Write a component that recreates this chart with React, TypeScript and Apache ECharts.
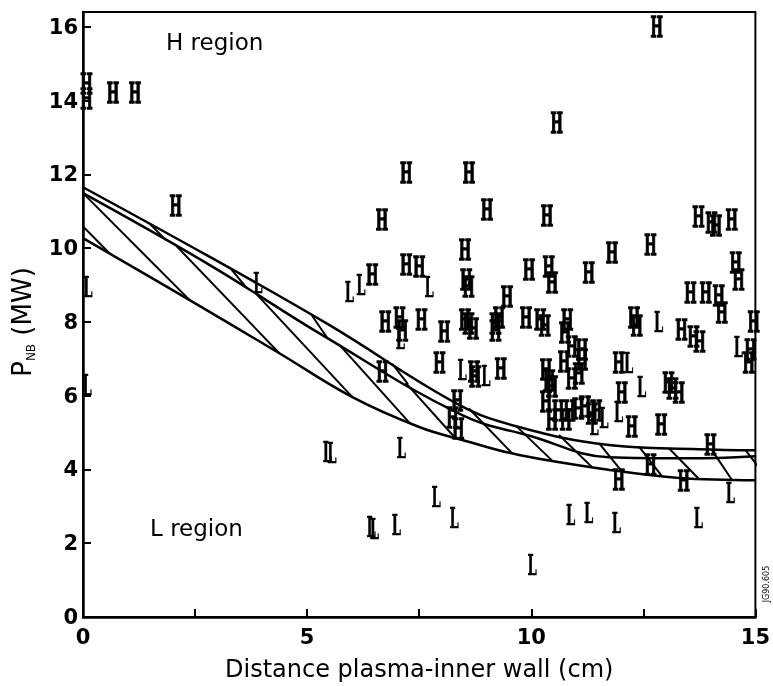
import React, { useEffect, useRef } from "react";
import * as echarts from "echarts";

// Boundary curves (x in cm, y in MW)
const curveAX = [0, 2.83, 5.5, 8.39, 9.73, 11.73, 13.73, 15];
const curveAY = [11.65, 9.76, 7.91, 5.75, 5.15, 4.66, 4.55, 4.52];
const curveBX = [0, 2.83, 5.34, 8.46, 10.0, 11.73, 13.5, 15];
const curveBY = [11.49, 9.54, 7.64, 5.47, 4.9, 4.33, 4.3, 4.36];
const curveCX = [0, 2.38, 4.38, 6.01, 7.5, 8.46, 9.73, 11.8, 13.3, 15];
const curveCY = [10.27, 8.59, 7.15, 5.96, 5.15, 4.8, 4.39, 3.98, 3.77, 3.71];

// Hatching: start x on the upper boundary, end x on the lower boundary
const hatchStartX = [-1.64, 0, 2.09, 3.87, 5.72, 7.2, 8.61, 9.66, 10.62, 11.51, 12.4, 13.06, 14.02, 14.78];
const hatchEndX = [0.6, 2.38, 4.38, 6.01, 7.28, 8.3, 9.57, 10.46, 11.35, 12.02, 12.91, 13.73, 14.47, 15.3];
const thinHatchX = [1.5, 3.3, 5.1, 6.9];

// Observations labelled H
const hX = [0.08, 0.08, 0.67, 1.16, 2.07, 6.67, 7.21, 8.61, 9.01, 10.35, 10.57, 12.8,
  11.8, 12.66, 8.52, 7.21, 7.5, 6.45, 8.55, 8.6, 9.95, 10.39, 10.46, 11.28, 9.46,
  13.73, 14.02, 14.12, 14.47, 14.56, 14.62, 13.55, 13.89, 14.18, 14.25, 14.96, 14.89, 14.85,
  6.74, 7.06, 7.12, 7.55, 8.06, 8.52, 8.6, 8.7, 9.2, 9.28, 9.2, 9.88, 10.2, 10.3, 10.8, 10.75,
  12.29, 12.35, 13.35, 13.62, 13.75,
  7.95, 8.72, 8.75, 9.32, 10.33, 10.46, 10.4, 10.73, 11.13, 10.9, 11.13, 11.06, 10.9, 11.95,
  12.02, 13.06, 13.15, 13.29,
  6.68, 8.35, 8.24, 8.37,
  10.33, 10.46, 10.6, 10.77, 10.85, 11.05, 11.2, 11.35, 11.45, 12.24, 12.9,
  11.95, 12.66, 13.4, 14.0];
const hY = [14.45, 14.05, 14.2, 14.2, 11.15, 10.76, 12.03, 12.03, 11.05, 10.87, 13.39, 15.99,
  9.87, 10.08, 9.95, 9.55, 9.49, 9.27, 9.13, 8.95, 9.4, 9.49, 9.05, 9.32, 8.67,
  10.84, 10.68, 10.6, 10.76, 9.6, 9.13, 8.78, 8.78, 8.7, 8.24, 8.0, 7.24, 6.88,
  8.0, 8.1, 7.75, 8.05, 7.72, 8.05, 7.95, 7.8, 7.95, 8.1, 7.75, 8.1, 8.05, 7.9, 8.05, 7.7,
  8.1, 7.9, 7.78, 7.6, 7.45,
  6.88, 6.64, 6.5, 6.72, 6.69, 6.23, 6.4, 6.91, 6.96, 7.32, 7.24, 6.6, 6.45, 6.88,
  6.07, 6.34, 6.2, 6.07,
  6.64, 5.85, 5.4, 5.1,
  5.83, 5.34, 5.6, 5.34, 5.6, 5.65, 5.7, 5.5, 5.6, 5.15, 5.22,
  3.71, 4.12, 3.68, 4.66];

// Observations labelled L
const lX = [0.11, 0.09, 3.9, 5.94, 6.2, 7.72, 7.08, 8.46, 8.99, 11.62, 11.4, 11.95, 12.17, 12.46,
  12.84, 14.62, 5.45, 5.55, 7.1, 6.43, 6.5, 6.99, 7.88, 8.28, 10.88, 11.28, 11.9, 13.73, 14.44, 10.02];
const lY = [8.94, 6.29, 9.05, 8.82, 9.0, 8.94, 7.55, 6.7, 6.55, 5.39, 5.2, 5.55, 6.88, 6.23,
  8.0, 7.32, 4.47, 4.45, 4.58, 2.44, 2.4, 2.5, 3.25, 2.68, 2.76, 2.82, 2.55, 2.68, 3.36, 1.41];

const xTickLabels = ["0", "5", "10", "15"];
const yTickLabels = ["0", "2", "4", "6", "8", "10", "12", "14", "16"];

function interp(xs: number[], ys: number[], x: number): number {
  if (x <= xs[0]) return ys[0] + ((ys[1] - ys[0]) / (xs[1] - xs[0])) * (x - xs[0]);
  const n = xs.length;
  if (x >= xs[n - 1]) return ys[n - 1] + ((ys[n - 1] - ys[n - 2]) / (xs[n - 1] - xs[n - 2])) * (x - xs[n - 1]);
  for (let i = 0; i < n - 1; i++) {
    if (x >= xs[i] && x <= xs[i + 1]) {
      return ys[i] + ((ys[i + 1] - ys[i]) / (xs[i + 1] - xs[i])) * (x - xs[i]);
    }
  }
  return ys[n - 1];
}

const zip = (a: number[], b: number[]) => a.map((v, i) => [v, b[i]]);

const glyphSeries = (data: number[][], ch: string, heavy: boolean) => ({
  type: "custom",
  coordinateSystem: "cartesian2d",
  data,
  clip: false,
  silent: true,
  renderItem: (_params: any, api: any) => {
    const p = api.coord([api.value(0), api.value(1)]);
    return {
      type: "text",
      x: p[0],
      y: p[1],
      scaleX: 0.47,
      style: {
        text: ch,
        fill: "#000",
        stroke: "#000",
        lineWidth: heavy ? 1.4 : 0.6,
        fontFamily: "DejaVu Serif",
        fontWeight: "bold",
        fontSize: 28,
        align: "center",
        verticalAlign: "middle",
      },
    };
  },
});

export default function App() {
  const ref = useRef<HTMLDivElement>(null);
  useEffect(() => {
    if (!ref.current) return;
    const chart = echarts.init(ref.current, undefined, { renderer: "svg" });

    const hatchData = hatchStartX.map((xs, i) => {
      const upper = xs < 8 ? interp(curveBX, curveBY, xs) : interp(curveAX, curveAY, xs);
      const xe = hatchEndX[i];
      return { coords: [[xs, upper], [xe, interp(curveCX, curveCY, xe)]] };
    });
    const thinData = thinHatchX.map((xs) => ({
      coords: [[xs, interp(curveAX, curveAY, xs)], [xs + 0.35, interp(curveBX, curveBY, xs + 0.35)]],
    }));

    const curveStyle = { color: "#000", width: 2.5 };
    const option: any = {
      animation: false,
      backgroundColor: "#fff",
      grid: {
        left: 83,
        right: 16,
        top: 12,
        bottom: 69,
        show: true,
        borderColor: "#000",
        borderWidth: 2,
        backgroundColor: "transparent",
      },
      xAxis: {
        type: "value",
        min: 0,
        max: 15,
        interval: 5,
        name: "Distance plasma-inner wall (cm)",
        nameLocation: "middle",
        nameGap: 40,
        nameTextStyle: { color: "#000", fontFamily: "DejaVu Sans", fontSize: 24 },
        axisLine: { lineStyle: { color: "#000", width: 2.5 } },
        axisTick: { inside: true, length: 8, lineStyle: { color: "#000", width: 2 } },
        minorTick: { show: true, splitNumber: 2, length: 8, lineStyle: { color: "#000", width: 2 } },
        splitLine: { show: false },
        axisLabel: {
          color: "#000",
          fontFamily: "DejaVu Sans",
          fontWeight: "bold",
          fontSize: 21,
          margin: 9,
          formatter: (v: number) => xTickLabels[Math.round(v / 5)] ?? "",
        },
      },
      yAxis: {
        type: "value",
        min: 0,
        max: 16.4,
        interval: 2,
        axisLine: { lineStyle: { color: "#000", width: 2.5 } },
        axisTick: { inside: true, length: 8, lineStyle: { color: "#000", width: 2 } },
        splitLine: { show: false },
        axisLabel: {
          color: "#000",
          fontFamily: "DejaVu Sans",
          fontWeight: "bold",
          fontSize: 21,
          margin: 5,
          showMaxLabel: false,
          formatter: (v: number) => (Math.abs(v / 2 - Math.round(v / 2)) < 1e-6 ? yTickLabels[Math.round(v / 2)] ?? "" : ""),
        },
      },
      series: [
        { type: "line", data: zip(curveAX, curveAY), smooth: 0.4, symbol: "none", lineStyle: curveStyle, silent: true },
        { type: "line", data: zip(curveBX, curveBY), smooth: 0.4, symbol: "none", lineStyle: curveStyle, silent: true },
        { type: "line", data: zip(curveCX, curveCY), smooth: 0.4, symbol: "none", lineStyle: curveStyle, silent: true },
        {
          type: "lines",
          coordinateSystem: "cartesian2d",
          data: hatchData,
          clip: true,
          silent: true,
          lineStyle: { color: "#000", width: 2, opacity: 1, curveness: 0 },
        },
        {
          type: "lines",
          coordinateSystem: "cartesian2d",
          data: thinData,
          clip: true,
          silent: true,
          lineStyle: { color: "#000", width: 2, opacity: 1, curveness: 0 },
        },
        glyphSeries(zip(hX, hY), "H", true),
        glyphSeries(zip(lX, lY), "L", false),
      ],
      graphic: [
        {
          type: "text",
          left: 166,
          top: 30,
          style: { text: "H region", fill: "#000", fontFamily: "DejaVu Sans", fontSize: 23 },
        },
        {
          type: "text",
          left: 150,
          top: 516,
          style: { text: "L region", fill: "#000", fontFamily: "DejaVu Sans", fontSize: 23 },
        },
        {
          type: "text",
          x: 22,
          y: 322,
          rotation: Math.PI / 2,
          style: {
            text: "{p|P}{s|NB}{n| (MW)}",
            fill: "#000",
            align: "center",
            verticalAlign: "middle",
            rich: {
              p: { fontFamily: "DejaVu Sans", fontSize: 26, lineHeight: 30, verticalAlign: "middle" },
              s: { fontFamily: "DejaVu Sans", fontSize: 12, lineHeight: 14, verticalAlign: "bottom" },
              n: { fontFamily: "DejaVu Sans", fontSize: 26, lineHeight: 30, verticalAlign: "middle" },
            },
          },
        },
        {
          type: "text",
          x: 766,
          y: 584,
          rotation: Math.PI / 2,
          style: {
            text: "JG90.605",
            fill: "#000",
            fontFamily: "DejaVu Sans",
            fontSize: 8,
            align: "center",
            verticalAlign: "middle",
          },
        },
      ],
    };
    chart.setOption(option);
    return () => chart.dispose();
  }, []);
  return (
    <div
      ref={ref}
      style={{ position: "fixed", left: 0, top: 0, width: 773, height: 686, background: "#fff", filter: "grayscale(1)" }}
    />
  );
}
